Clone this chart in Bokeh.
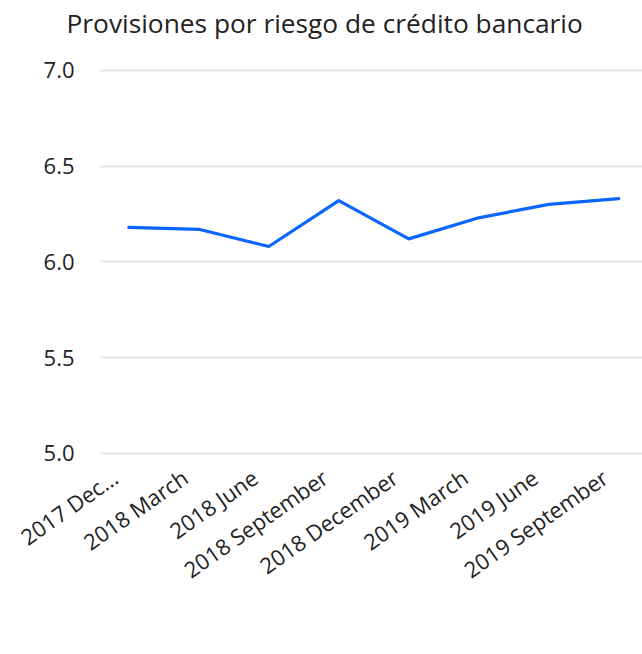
import math
from bokeh.plotting import figure
from bokeh.models import Range1d, FixedTicker, Title
from bokeh.embed import file_html
from bokeh.resources import INLINE

categories = ["2017 Dec...", "2018 March", "2018 June", "2018 September",
              "2018 December", "2019 March", "2019 June", "2019 September"]
values = [6.18, 6.17, 6.08, 6.32, 6.12, 6.23, 6.30, 6.33]
y_ticks = [5.0, 5.5, 6.0, 6.5, 7.0]
title_text = "Provisiones por riesgo de crédito bancario"

FONT = "Open Sans"
xs = list(range(len(categories)))
label_shift = 0.2
label_pos = [round(i - label_shift, 2) for i in xs]

p = figure(width=642, height=640, output_backend="svg", toolbar_location=None,
           x_range=Range1d(-0.404, 7.339), y_range=Range1d(4.983, 7.125),
           min_border_left=100, min_border_right=0, min_border_top=46,
           min_border_bottom=184)

p.title = Title(text=title_text, text_font=FONT, text_font_size="26.3px",
                text_font_style="normal", text_color="#222222",
                align="left", offset=-34, standoff=8, vertical_align="top")

p.line(xs, values, line_color="#0a66ff", line_width=3.2, line_join="round", line_cap="round")

p.xaxis.ticker = FixedTicker(ticks=label_pos)
p.xaxis.major_label_overrides = {pos: c for pos, c in zip(label_pos, categories)}
p.xaxis.major_label_orientation = math.radians(35)
p.yaxis.ticker = FixedTicker(ticks=y_ticks)
p.yaxis.major_label_overrides = {t: f"{t:.1f}" for t in y_ticks}

for ax in (p.xaxis, p.yaxis):
    ax.axis_line_color = None
    ax.major_tick_line_color = None
    ax.minor_tick_line_color = None
    ax.major_label_text_font = FONT
    ax.major_label_text_color = "#222222"
p.yaxis.major_label_text_font_size = "22px"
p.xaxis.major_label_text_font_size = "22px"
p.yaxis.major_label_standoff = 20
p.xaxis.major_label_standoff = 12

p.xgrid.grid_line_color = None
p.ygrid.grid_line_color = "#e6e6e6"
p.ygrid.grid_line_width = 2
p.outline_line_color = None

open("out.html", "w").write(file_html(p, INLINE))
